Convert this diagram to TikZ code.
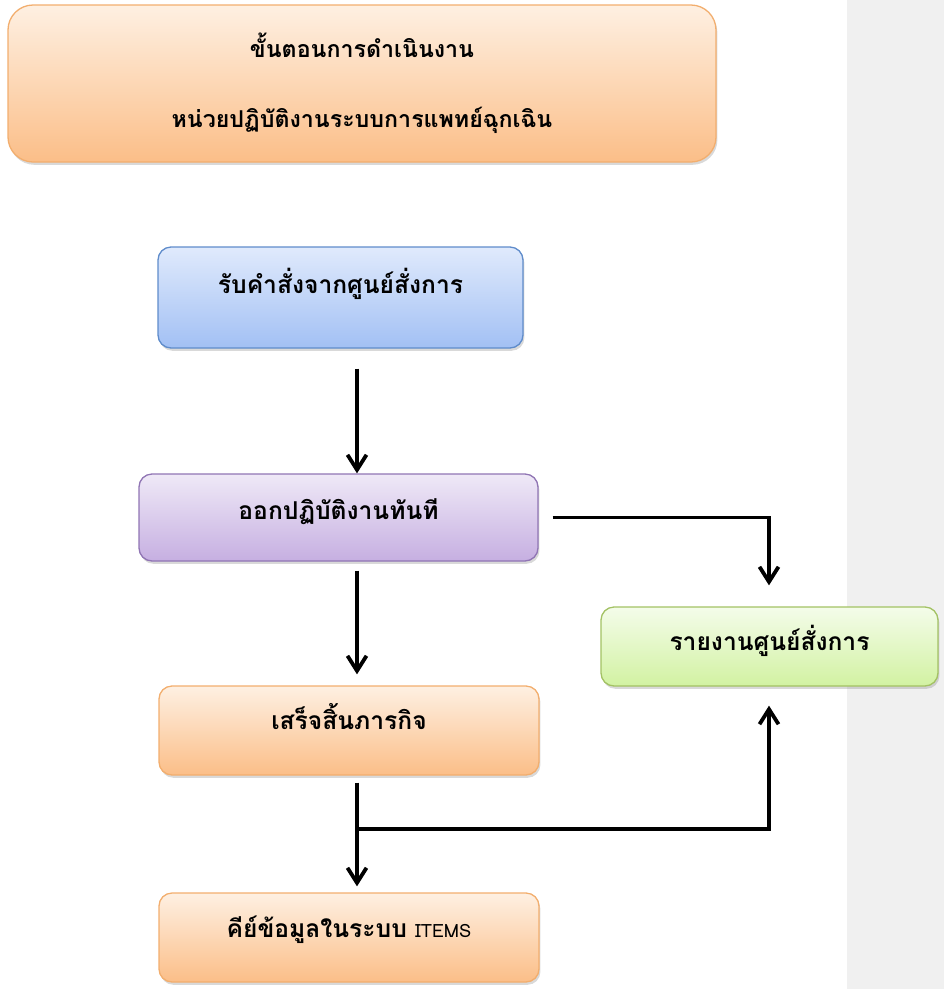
\documentclass[tikz,border=0pt]{standalone}
\usepackage{fontspec}
\newfontfamily\thaifont[Script=Thai]{Loma}
\usetikzlibrary{arrows.meta,shadows}
\newlength\px
\setlength\px{0.025cm}
\tikzset{
  stepbox/.style={rounded corners=13\px, line width=1.3\px, inner sep=0pt,
    font=\thaifont\bfseries\fontsize{17.5}{21}\selectfont,
    drop shadow={opacity=0.3, shadow xshift=1pt, shadow yshift=-2pt}},
  lift/.style={text height=0.55em, text depth=#1\px},
  flow/.style={line width=0.095cm, -{Straight Barb[length=0.375cm, width=0.475cm]}}
}
\begin{document}
\begin{tikzpicture}[x=0.025cm, y=-0.025cm]
\definecolor{panel}{HTML}{F0F0F0}
\fill[panel] (847,0) rectangle (944,989);
\useasboundingbox (0,0) rectangle (944,989);
\definecolor{orangeedge}{HTML}{F2AE6E}
\definecolor{orangetop}{HTML}{FEF0E2}
\definecolor{orangebot}{HTML}{FBBE88}
\node[stepbox, draw=orangeedge, top color=orangetop, bottom color=orangebot, rounded corners=25\px, minimum width=708\px, minimum height=157\px, align=center, font=\thaifont\bfseries\fontsize{16.5}{50}\selectfont] (head) at (362,83.5) {ขั้นตอนการดำเนินงาน\\หน่วยปฏิบัติงานระบบการแพทย์ฉุกเฉิน};
\definecolor{blueedge}{HTML}{5F8CCB}
\definecolor{bluetop}{HTML}{E0EAFC}
\definecolor{bluebot}{HTML}{A2C0F4}
\node[stepbox, lift=16, draw=blueedge, top color=bluetop, bottom color=bluebot, minimum width=365\px, minimum height=101\px] (order) at (340.5,297.5) {รับคำสั่งจากศูนย์สั่งการ};
\definecolor{violetedge}{HTML}{9075B4}
\definecolor{violettop}{HTML}{EFE9F7}
\definecolor{violetbot}{HTML}{C6AFE1}
\node[stepbox, lift=3, draw=violetedge, top color=violettop, bottom color=violetbot, minimum width=399\px, minimum height=87\px] (go) at (338.5,517.5) {ออกปฏิบัติงานทันที};
\node[stepbox, lift=9, draw=orangeedge, top color=orangetop, bottom color=orangebot, minimum width=380\px, minimum height=89\px] (done) at (349,730.5) {เสร็จสิ้นภารกิจ};
\node[stepbox, lift=7, draw=orangeedge, top color=orangetop, bottom color=orangebot, minimum width=380\px, minimum height=89\px] (entry) at (349,937.5) {คีย์ข้อมูลในระบบ {\mdseries\fontsize{13}{15}\selectfont ITEMS}};
\definecolor{greenedge}{HTML}{A3C264}
\definecolor{greentop}{HTML}{F4FCEA}
\definecolor{greenbot}{HTML}{D2F2A2}
\node[stepbox, lift=0, draw=greenedge, top color=greentop, bottom color=greenbot, minimum width=337\px, minimum height=79\px] (report) at (769.5,646.5) {รายงานศูนย์สั่งการ};
\coordinate (spine) at (357,0);
\coordinate (rail) at (769,0);
\coordinate (split) at (357,829);
\draw[flow, shorten <=0.5cm] (order.south -| spine) -- (go.north -| spine);
\draw[flow, shorten <=0.225cm, shorten >=0.275cm] (go.south -| spine) -- (done.north -| spine);
\draw[flow, shorten <=0.175cm, shorten >=0.15cm] (done.south -| spine) -- (entry.north -| spine);
\draw[flow, shorten >=0.475cm] (split) -- (split -| rail) -- (report.south -| rail);
\draw[flow, shorten <=0.35cm, shorten >=0.525cm] (go.east) -- (go.east -| rail) -- (report.north -| rail);
\end{tikzpicture}
\end{document}
